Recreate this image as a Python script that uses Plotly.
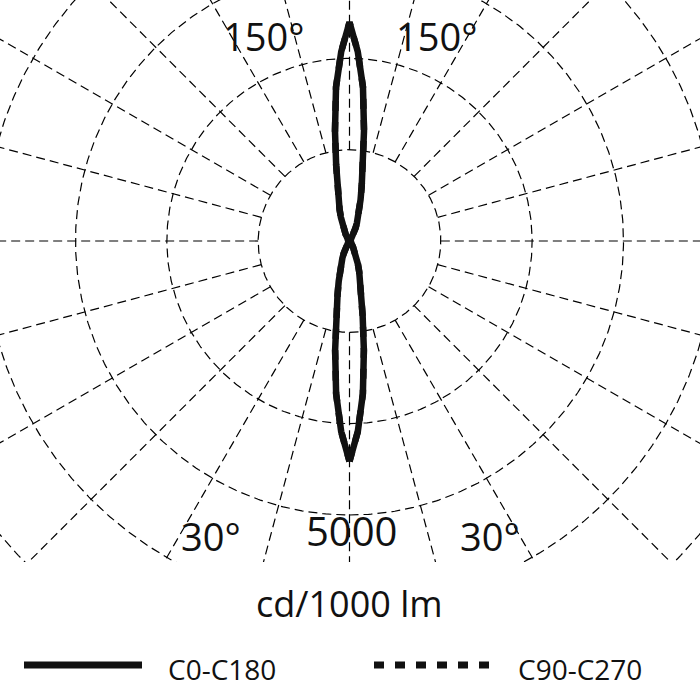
import numpy as np
import plotly.graph_objects as go

# ---- data (cd/1000 lm) ----
GAMMA = [0, 2.5, 5, 7.5, 10, 12.5, 15, 17.5, 20, 22.5, 25, 27.5, 30, 35, 40, 45,
         50, 55, 60, 65, 70, 75, 80, 85, 90, 95, 100, 105, 110, 115, 120, 125,
         130, 135, 140, 145, 150, 152.5, 155, 157.5, 160, 162.5, 165, 167.5,
         170, 172.5, 175, 177.5, 180]
I_C0 = [4020, 3480, 2800, 2010, 1380, 1010, 760, 590, 450, 340, 250, 180, 130, 70, 40, 25,
        15, 10, 8, 6, 5, 4, 3, 3, 2, 3, 3, 4, 5, 6, 8, 10,
        15, 25, 40, 75, 140, 190, 260, 350, 460, 600, 780, 1030,
        1400, 2030, 2820, 3460, 3990]
I_C180 = [4020, 3480, 2800, 2010, 1380, 1010, 760, 590, 450, 340, 250, 180, 130, 70, 40, 25,
          15, 10, 8, 6, 5, 4, 3, 3, 2, 3, 3, 4, 5, 6, 8, 10,
          15, 25, 40, 75, 140, 190, 260, 350, 460, 600, 780, 1030,
          1400, 2030, 2820, 3460, 3990]
I_C90 = [4020, 3480, 2800, 2010, 1380, 1010, 760, 590, 450, 340, 250, 180, 130, 70, 40, 25,
         15, 10, 8, 6, 5, 4, 3, 3, 2, 3, 3, 4, 5, 6, 8, 10,
         15, 25, 40, 75, 140, 190, 260, 350, 460, 600, 780, 1030,
         1400, 2030, 2820, 3460, 3990]
I_C270 = [4020, 3480, 2800, 2010, 1380, 1010, 760, 590, 450, 340, 250, 180, 130, 70, 40, 25,
          15, 10, 8, 6, 5, 4, 3, 3, 2, 3, 3, 4, 5, 6, 8, 10,
          15, 25, 40, 75, 140, 190, 260, 350, 460, 600, 780, 1030,
          1400, 2030, 2820, 3460, 3990]

RING_VALUES = [5000 / 3, 10000 / 3, 5000, 20000 / 3, 25000 / 3]
SPOKE_ANGLES = list(range(0, 360, 15))
SPOKE_OUTER = 10000
SERIES_NAMES = ["C0-C180", "C90-C270"]
UNIT_LABEL = "cd/1000 lm"
SCALE_LABEL = "5000"

FONT = "Open Sans"
INK = "#111111"


def plane_xy(gamma, right, left):
    """Polar intensity (gamma from nadir) -> x/y of the diagram."""
    g = np.radians(np.asarray(gamma, dtype=float))
    r_right = np.asarray(right, dtype=float)
    r_left = np.asarray(left, dtype=float)[::-1]
    g_left = g[::-1]
    x = np.concatenate([r_right * np.sin(g), -r_left * np.sin(g_left)])
    y = np.concatenate([-r_right * np.cos(g), -r_left * np.cos(g_left)])
    return x, y


fig = go.Figure()

# grid rings
t = np.radians(np.linspace(0, 360, 721))
gx, gy = [], []
for rv in RING_VALUES:
    gx += list(rv * np.sin(t)) + [None]
    gy += list(-rv * np.cos(t)) + [None]
# spokes from first ring outward
for a in SPOKE_ANGLES:
    ar = np.radians(a)
    gx += [RING_VALUES[0] * np.sin(ar), SPOKE_OUTER * np.sin(ar), None]
    gy += [-RING_VALUES[0] * np.cos(ar), -SPOKE_OUTER * np.cos(ar), None]
fig.add_trace(go.Scatter(x=gx, y=gy, mode="lines", hoverinfo="skip", showlegend=False,
                         line=dict(color="#000000", width=1.2, dash="9px,5px")))

x90, y90 = plane_xy(GAMMA, I_C90, I_C270)
fig.add_trace(go.Scatter(x=x90, y=y90, mode="lines", name=SERIES_NAMES[1], showlegend=False,
                         line=dict(color=INK, width=6.5, dash="10px,11px")))
x0, y0 = plane_xy(GAMMA, I_C0, I_C180)
fig.add_trace(go.Scatter(x=x0, y=y0, mode="lines", name=SERIES_NAMES[0], showlegend=False,
                         line=dict(color=INK, width=6.5)))

K = 5000 / 274.0  # data units per pixel
CX, CY, BOTTOM = 349.5, 241.0, 562.0

fig.update_xaxes(range=[-CX * K, (700 - CX) * K], visible=False, fixedrange=True)
fig.update_yaxes(range=[-(BOTTOM - CY) * K, CY * K], visible=False, fixedrange=True)


def px(xp, yp):
    return (xp - CX) * K, (CY - yp) * K


annotations = []
for txt, (xp, yp) in [("150°", (263, 36)), ("150°", (436, 36)),
                      ("30°", (211, 536)), ("30°", (490, 536))]:
    ax_, ay_ = px(xp, yp)
    annotations.append(dict(x=ax_, y=ay_, xref="x", yref="y", text=txt, showarrow=False,
                            xanchor="center", yanchor="middle",
                            font=dict(family=FONT, size=38, color=INK)))
sx, sy = px(351, 530)
annotations.append(dict(x=sx, y=sy, xref="x", yref="y", text=SCALE_LABEL, showarrow=False,
                        xanchor="center", yanchor="middle",
                        font=dict(family=FONT, size=40, color=INK)))


def paper_y(yp):
    return (BOTTOM - yp) / BOTTOM


annotations.append(dict(x=349 / 700, y=paper_y(603), xref="paper", yref="paper", text=UNIT_LABEL,
                        showarrow=False, xanchor="center", yanchor="middle",
                        font=dict(family=FONT, size=36, color=INK)))
annotations.append(dict(x=166 / 700, y=paper_y(669), xref="paper", yref="paper", text=SERIES_NAMES[0],
                        showarrow=False, xanchor="left", yanchor="middle",
                        font=dict(family=FONT, size=28, color=INK)))
annotations.append(dict(x=516 / 700, y=paper_y(669), xref="paper", yref="paper", text=SERIES_NAMES[1],
                        showarrow=False, xanchor="left", yanchor="middle",
                        font=dict(family=FONT, size=28, color=INK)))

shapes = [
    dict(type="line", xref="paper", yref="paper", x0=24 / 700, x1=142 / 700,
         y0=paper_y(665), y1=paper_y(665), line=dict(color=INK, width=7)),
    dict(type="line", xref="paper", yref="paper", x0=374 / 700, x1=489 / 700,
         y0=paper_y(665), y1=paper_y(665), line=dict(color=INK, width=7, dash="10px,11px")),
]

fig.update_layout(width=700, height=700, margin=dict(l=0, r=0, t=0, b=700 - BOTTOM),
                  paper_bgcolor="white", plot_bgcolor="white",
                  annotations=annotations, shapes=shapes, showlegend=False)

fig.write_html("out.html", config={"displayModeBar": False},
               post_script="document.body.style.margin='0';document.body.style.padding='0';"
                           "document.body.style.overflow='hidden';")
